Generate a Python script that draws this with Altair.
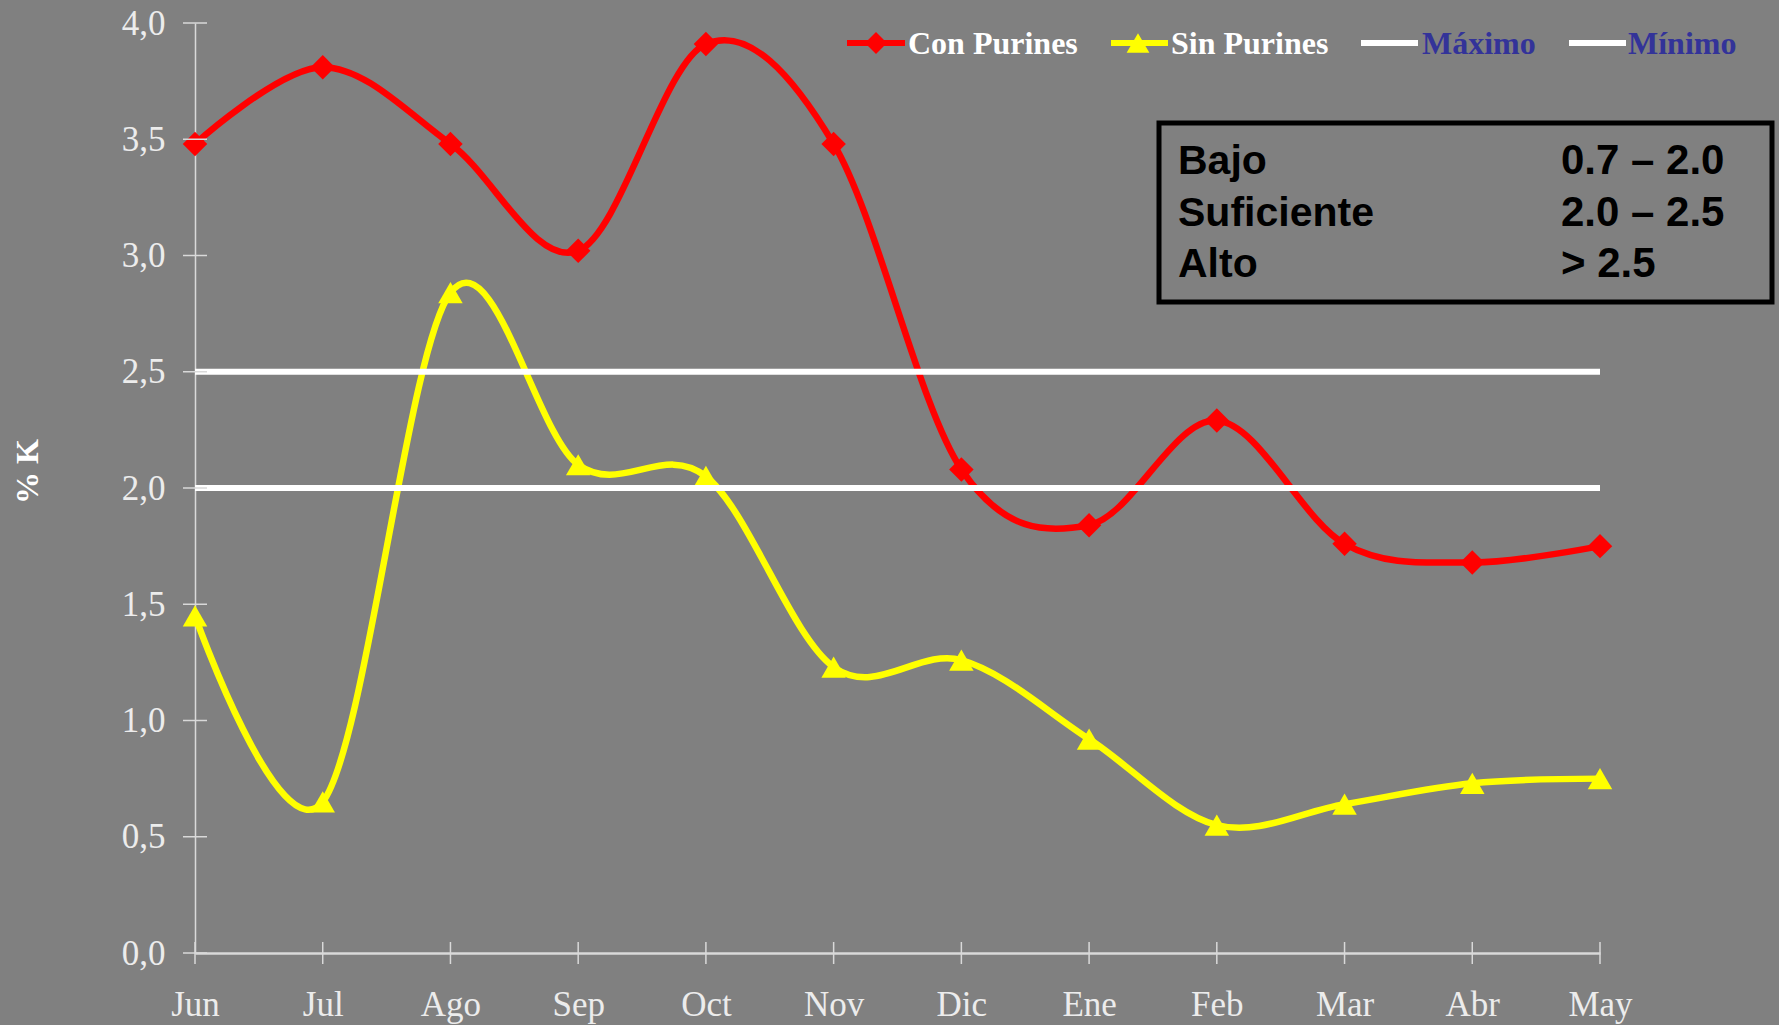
import altair as alt
import pandas as pd

# ---- data -------------------------------------------------------------
months = ["Jun", "Jul", "Ago", "Sep", "Oct", "Nov", "Dic", "Ene", "Feb", "Mar", "Abr", "May"]
con_purines = [3.48, 3.81, 3.48, 3.02, 3.91, 3.48, 2.08, 1.84, 2.29, 1.76, 1.68, 1.75]
sin_purines = [1.45, 0.65, 2.84, 2.10, 2.05, 1.23, 1.26, 0.92, 0.55, 0.64, 0.73, 0.75]
maximo = 2.5
minimo = 2.0
y_ticks = [0.0, 0.5, 1.0, 1.5, 2.0, 2.5, 3.0, 3.5, 4.0]
ranges_names = ["Bajo", "Suficiente", "Alto"]
ranges_values = ["0.7 \u2013 2.0", "2.0 \u2013 2.5", "> 2.5"]

# ---- layout -----------------------------------------------------------
W, H = 1405, 930
BG = "#808080"
AXIS = "#d9d9d9"
LABEL = "#ececec"
SERIF = "Liberation Serif"
SANS = "Liberation Sans"

series_df = pd.DataFrame(
    [{"Serie": "Con Purines", "Mes": m, "K": v} for m, v in zip(months, con_purines)]
    + [{"Serie": "Sin Purines", "Mes": m, "K": v} for m, v in zip(months, sin_purines)]
)
limits_df = pd.DataFrame(
    [{"Serie": "Máximo", "Mes": m, "K": maximo} for m in months]
    + [{"Serie": "Mínimo", "Mes": m, "K": minimo} for m in months]
)

x_scale = alt.Scale(type="point", domain=months, padding=0)
y_scale = alt.Scale(domain=[0, 4], nice=False)
color_scale = alt.Scale(domain=["Con Purines", "Sin Purines"], range=["#ff0000", "#ffff00"])

x_enc = alt.X(
    "Mes:N", scale=x_scale, sort=months, title=None,
    axis=alt.Axis(
        labelAngle=0, labelFont=SERIF, labelFontSize=35, labelColor=LABEL,
        labelPadding=34, ticks=False, domainColor=AXIS, domainWidth=2.5, grid=False,
    ),
)
y_enc = alt.Y(
    "K:Q", scale=y_scale, title="% K",
    axis=alt.Axis(
        values=y_ticks, labelExpr="replace(format(datum.value, '.1f'), '.', ',')",
        labelFont=SERIF, labelFontSize=35, labelColor=LABEL, labelPadding=30,
        ticks=False, domainColor=AXIS, domainWidth=1.5, grid=False,
        titleFont=SERIF, titleFontSize=32, titleFontWeight="bold", titleColor="white",
        titleAngle=270, titleX=-168, titleY=448, titleAlign="center", titleBaseline="middle",
    ),
)

base = alt.Chart(series_df)

lines = base.mark_line(interpolate="cardinal", strokeWidth=6.5).encode(
    x=x_enc, y=y_enc,
    color=alt.Color("Serie:N", scale=color_scale, legend=None),
    detail="Serie:N",
)

points = base.transform_filter(alt.datum.Serie == "Con Purines").mark_point(
    filled=True, opacity=1, size=600, shape="diamond", color="#ff0000"
).encode(x=alt.X("Mes:N", scale=x_scale, sort=months), y=alt.Y("K:Q", scale=y_scale))

tri = base.transform_filter(alt.datum.Serie == "Sin Purines").mark_point(
    filled=True, opacity=1, size=600, shape="triangle-up", color="#ffff00"
).encode(x=alt.X("Mes:N", scale=x_scale, sort=months), y=alt.Y("K:Q", scale=y_scale))

limit_lines = alt.Chart(limits_df).mark_line(color="white", strokeWidth=6, strokeCap="butt").encode(
    x=alt.X("Mes:N", scale=x_scale, sort=months),
    y=alt.Y("K:Q", scale=y_scale),
    detail="Serie:N",
)

# crossing tick marks on both axes
y_tick_marks = alt.Chart(pd.DataFrame({"v": y_ticks})).mark_rule(color=AXIS, strokeWidth=1.5).encode(
    y=alt.Y("v:Q", scale=y_scale), x=alt.value(-12), x2=alt.value(12)
)
x_tick_marks = alt.Chart(pd.DataFrame({"Mes": months})).mark_rule(color=AXIS, strokeWidth=1.5).encode(
    x=alt.X("Mes:N", scale=x_scale, sort=months), y=alt.value(H - 11), y2=alt.value(H + 11)
)

# ---- legend -----------------------------------------------------------
legend_items = pd.DataFrame({
    "label": ["Con Purines", "Sin Purines", "Máximo", "Mínimo"],
    "x0": [652, 916, 1166, 1374],
    "x1": [710, 973, 1223, 1431],
    "tx": [713, 976, 1227, 1433],
    "line": ["#ff0000", "#ffff00", "white", "white"],
    "text": ["white", "white", "#333399", "#333399"],
})
LY = 20
leg_lines = alt.Chart(legend_items).mark_rule(strokeWidth=6).encode(
    x=alt.X("x0:Q", scale=None), x2="x1:Q", y=alt.value(LY),
    color=alt.Color("line:N", scale=None),
)
leg_text = alt.Chart(legend_items).mark_text(
    font=SERIF, fontSize=32, fontWeight="bold", align="left", baseline="middle"
).encode(
    x=alt.X("tx:Q", scale=None), y=alt.value(LY + 1), text="label:N",
    color=alt.Color("text:N", scale=None),
)
leg_marks = alt.Chart(pd.DataFrame({
    "x": [681, 943], "shape": ["diamond", "triangle-up"], "c": ["#ff0000", "#ffff00"],
    "s": [480, 520],
})).mark_point(filled=True, opacity=1).encode(
    x=alt.X("x:Q", scale=None), y=alt.value(LY),
    shape=alt.Shape("shape:N", scale=None), color=alt.Color("c:N", scale=None),
    size=alt.Size("s:Q", scale=None),
)

# ---- reference ranges box --------------------------------------------
box = alt.Chart(pd.DataFrame({"a": [0]})).mark_rect(
    fill=None, stroke="black", strokeWidth=5
).encode(x=alt.value(964), x2=alt.value(1577), y=alt.value(100), y2=alt.value(279))

box_rows = pd.DataFrame({
    "name": ranges_names, "val": ranges_values, "yb": [151, 203, 254],
})
box_names = alt.Chart(box_rows).mark_text(
    font=SANS, fontSize=41, fontWeight="bold", color="black", align="left", baseline="alphabetic"
).encode(x=alt.value(983), y=alt.Y("yb:Q", scale=None), text="name:N")
box_vals = alt.Chart(box_rows).mark_text(
    font=SANS, fontSize=42, fontWeight="bold", color="black", align="left", baseline="alphabetic"
).encode(x=alt.value(1366), y=alt.Y("yb:Q", scale=None), text="val:N")

chart = alt.layer(
    lines, points, tri, limit_lines, y_tick_marks, x_tick_marks,
    leg_lines, leg_marks, leg_text, box, box_names, box_vals,
).resolve_scale(color="independent", shape="independent", size="independent").properties(
    width=W, height=H,
    background=BG,
    padding={"left": 195, "top": 23, "right": 179, "bottom": 72},
    autosize=alt.AutoSizeParams(type="none"),
).configure_view(stroke=None).configure_scale(pointPadding=0)

chart.save("out.html", embed_options={"renderer": "svg", "actions": False})
